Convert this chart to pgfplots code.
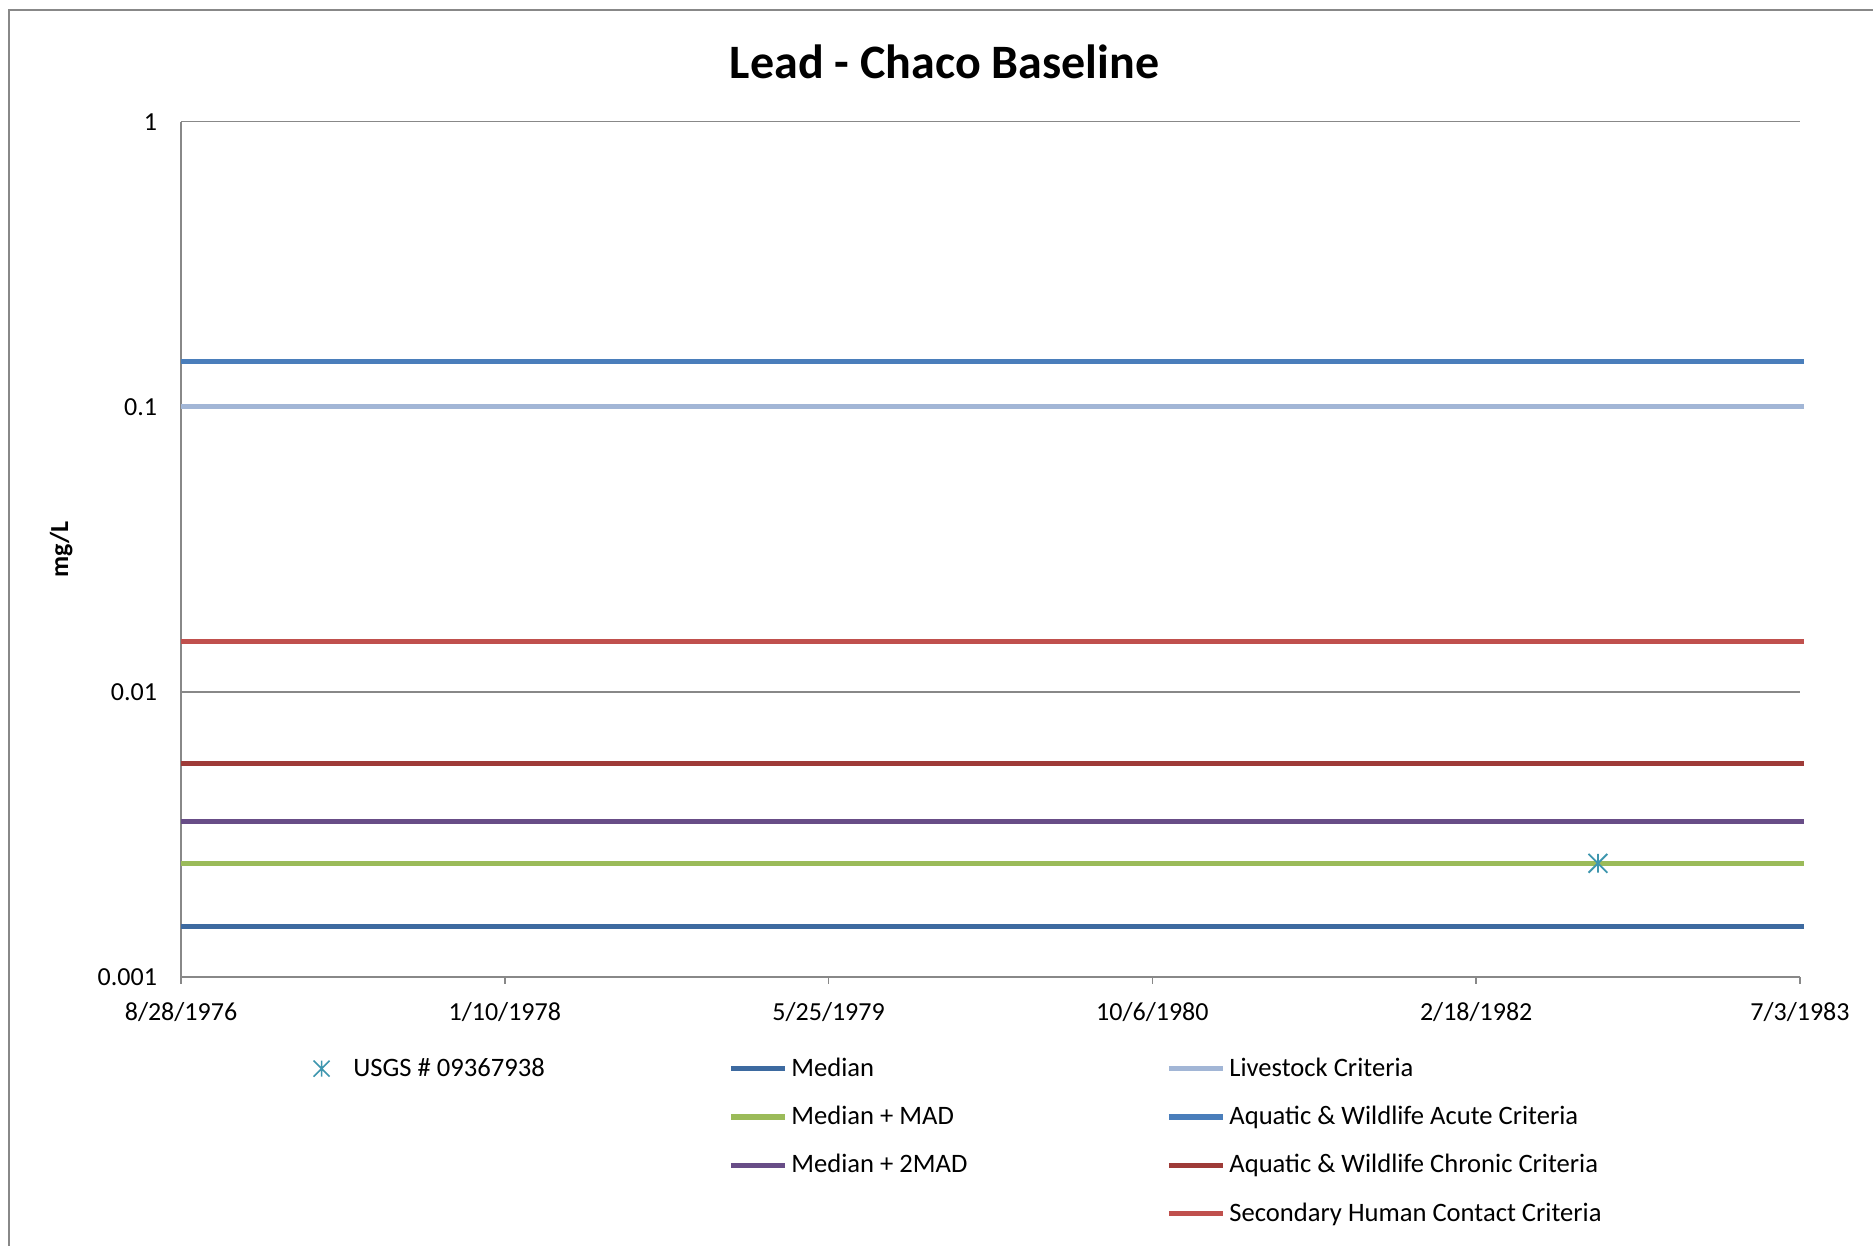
\documentclass[border=0pt]{standalone}
\usepackage{fontspec}
\setmainfont{Carlito}
\usepackage{pgfplots}
\pgfplotsset{compat=1.18}
\definecolor{cMedian}{HTML}{3D6AA0}
\definecolor{cMAD}{HTML}{9BBB59}
\definecolor{c2MAD}{HTML}{684D87}
\definecolor{cLive}{HTML}{A2B6D6}
\definecolor{cAcute}{HTML}{4A7EBB}
\definecolor{cChronic}{HTML}{9E3B38}
\definecolor{cSec}{HTML}{C0504D}
\definecolor{cMark}{HTML}{3E96AE}
\definecolor{cGrid}{HTML}{888888}
\pgfdeclareplotmark{xstar}{%
  \pgfpathmoveto{\pgfqpoint{-\pgfplotmarksize}{-\pgfplotmarksize}}%
  \pgfpathlineto{\pgfqpoint{\pgfplotmarksize}{\pgfplotmarksize}}%
  \pgfpathmoveto{\pgfqpoint{-\pgfplotmarksize}{\pgfplotmarksize}}%
  \pgfpathlineto{\pgfqpoint{\pgfplotmarksize}{-\pgfplotmarksize}}%
  \pgfpathmoveto{\pgfqpoint{0pt}{-\pgfplotmarksize}}%
  \pgfpathlineto{\pgfqpoint{0pt}{\pgfplotmarksize}}%
  \pgfusepathqstroke}
\newcommand{\LE}[1]{\makebox[185.4pt][l]{\rule[-9pt]{0pt}{24pt}#1}}
\begin{document}
\begin{tikzpicture}
\useasboundingbox (0,0) rectangle (936.5pt,623pt);
\draw[cGrid, line width=1pt] (4.7pt,0) -- (4.7pt,618pt) -- (936.5pt,618pt);
\begin{axis}[
  at={(90.5pt,134.65pt)}, anchor=south west,
  scale only axis, width=809.5pt, height=427.5pt,
  ymode=log, ymin=0.001, ymax=1,
  xmin=0, xmax=2500,
  clip=false,
  font=\fontsize{13}{15}\selectfont,
  axis line style={cGrid, line width=0.8pt},
  axis x line*=bottom, axis y line*=left,
  xtick={0,500,1000,1500,2000,2500},
  xticklabels={8/28/1976,1/10/1978,5/25/1979,10/6/1980,2/18/1982,7/3/1983},
  ytick={0.001,0.01,0.1,1},
  yticklabels={0.001,0.01,0.1,1},
  minor ytick={},
  ymajorgrids, major grid style={cGrid, line width=0.8pt},
  xtick style={cGrid, line width=0.8pt},
  ytick style={draw=none},
  tick align=outside,
  major tick length=3.5pt,
  xticklabel style={inner sep=0pt, yshift=-9.3pt},
  yticklabel style={inner sep=0pt, xshift=-8.3pt},
  title={\bfseries Lead - Chaco Baseline},
  title style={font=\fontsize{24}{28}\selectfont, at={(axis description cs:0.4716,1)}, anchor=center, yshift=24pt},
  ylabel={\bfseries mg/L},
  ylabel style={font=\fontsize{13}{15}\selectfont, at={(axis description cs:-0.074,0.5)}, anchor=center, rotate=0},
  legend columns=3,
  legend style={draw=none, fill=none, at={(axis description cs:0,0)}, anchor=north west, xshift=56.2pt, yshift=-32.5pt, column sep=0pt, row sep=3.7pt, inner sep=0pt, font=\fontsize{13.3}{15}\selectfont},
  legend cell align=left,
  legend image code/.code={\path (0pt,0pt) (27pt,0pt); \draw[mark repeat=2,mark phase=2,#1] plot coordinates {(0pt,-3pt) (13.5pt,-3pt) (27pt,-3pt)};},
]
\addplot[cMedian, line width=2.6pt, forget plot] coordinates {(0,0.0015) (2506,0.0015)};
\addplot[cMAD, line width=2.6pt, forget plot] coordinates {(0,0.0025) (2506,0.0025)};
\addplot[c2MAD, line width=2.6pt, forget plot] coordinates {(0,0.0035) (2506,0.0035)};
\addplot[cLive, line width=2.6pt, forget plot] coordinates {(0,0.1) (2506,0.1)};
\addplot[cAcute, line width=2.6pt, forget plot] coordinates {(0,0.144) (2506,0.144)};
\addplot[cChronic, line width=2.6pt, forget plot] coordinates {(0,0.0056) (2506,0.0056)};
\addplot[cSec, line width=2.6pt, forget plot] coordinates {(0,0.015) (2506,0.015)};
\addplot[only marks, mark=xstar, mark size=4.7pt, cMark, line width=0.9pt, forget plot] coordinates {(2188,0.0025)};
% legend
\addlegendimage{only marks, mark=xstar, mark size=4pt, cMark, line width=0.8pt}
\addlegendentry{\LE{USGS \# 09367938}}
\addlegendimage{cMedian, line width=2.6pt}
\addlegendentry{\LE{Median}}
\addlegendimage{cLive, line width=2.6pt}
\addlegendentry{\LE{Livestock Criteria}}
\addlegendimage{empty legend}
\addlegendentry{\LE{}}
\addlegendimage{cMAD, line width=2.6pt}
\addlegendentry{\LE{Median + MAD}}
\addlegendimage{cAcute, line width=2.6pt}
\addlegendentry{\LE{Aquatic \& Wildlife Acute Criteria}}
\addlegendimage{empty legend}
\addlegendentry{\LE{}}
\addlegendimage{c2MAD, line width=2.6pt}
\addlegendentry{\LE{Median + 2MAD}}
\addlegendimage{cChronic, line width=2.6pt}
\addlegendentry{\LE{Aquatic \& Wildlife Chronic Criteria}}
\addlegendimage{empty legend}
\addlegendentry{\LE{}}
\addlegendimage{empty legend}
\addlegendentry{\LE{}}
\addlegendimage{cSec, line width=2.6pt}
\addlegendentry{\LE{Secondary Human Contact Criteria}}
\end{axis}
\end{tikzpicture}
\end{document}
